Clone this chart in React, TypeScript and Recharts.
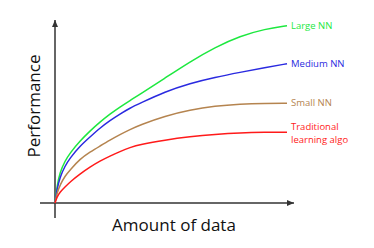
import { LineChart, Line, XAxis, YAxis, ReferenceLine, ReferenceDot } from "recharts";

// amount of data (x) and performance (y)
const amount = [0, 2, 5, 10, 15, 25, 35, 45, 55, 65, 75, 85, 110, 135, 160, 185, 210, 232];
const largeNN = [0, 17, 31, 42, 50, 62, 72, 81, 89, 96, 102.5, 108.7, 125, 141.3, 155.7, 167, 174, 177.3];
const mediumNN = [0, 14, 26, 37, 45, 57, 66, 75, 82.5, 89, 95, 99.7, 111.3, 119.7, 125.7, 130.7, 135.3, 139.3];
const smallNN = [0, 10, 18, 27, 33, 44, 51, 57, 63, 68.5, 73.5, 78, 87, 93, 97, 99, 99.7, 99.7];
const traditional = [0, 6, 11, 16, 21, 29, 36, 42, 47, 51.5, 55.5, 58.5, 63, 66.3, 68.7, 70.3, 70.7, 70.7];

const data = amount.map((a, i) => ({
  amount: a,
  large: largeNN[i],
  medium: mediumNN[i],
  small: smallNN[i],
  trad: traditional[i],
}));

const series = [
  { key: "large", color: "#1de83f", label: ["Large NN"] },
  { key: "medium", color: "#2a2ae0", label: ["Medium NN"] },
  { key: "small", color: "#b5844f", label: ["Small NN"] },
  { key: "trad", color: "#ff1a1a", label: ["Traditional", "learning algo"] },
];

const FONT = "'Open Sans', sans-serif";
const AXIS = "#333";

const arrowLine = (dir: "up" | "right") => (p: any) => {
  const { x1, y1, x2, y2 } = p;
  let head;
  if (dir === "right") {
    const tx = Math.max(x1, x2);
    head = `${tx},${y1} ${tx - 7},${y1 - 3} ${tx - 7},${y1 + 3}`;
  } else {
    const ty = Math.min(y1, y2);
    head = `${x1},${ty} ${x1 - 3},${ty + 7} ${x1 + 3},${ty + 7}`;
  }
  return (
    <g>
      <line x1={x1} y1={y1} x2={x2} y2={y2} stroke={AXIS} strokeWidth={1.5} />
      <polygon points={head} fill={AXIS} />
    </g>
  );
};

const endLabel = (lines: string[], color: string) => (p: any) => {
  const { x, y } = p.viewBox;
  const offset = lines.length > 1 ? -6 : -1;
  return (
    <text x={x + 4} y={y + offset} fill={color} fontSize={9.5} fontFamily={FONT} dominantBaseline="central">
      {lines.map((t, i) => (
        <tspan key={i} x={x + 4} dy={i === 0 ? 0 : 13}>
          {t}
        </tspan>
      ))}
    </text>
  );
};

export default function App() {
  const last = data[data.length - 1] as any;
  return (
    <div style={{ position: "absolute", left: 0, top: 0, background: "#fff" }}>
      <LineChart
        width={374}
        height={248}
        data={data}
        margin={{ top: 20, right: 80, bottom: 30, left: 40 }}
      >
        <XAxis dataKey="amount" type="number" domain={[-15, 239]} hide />
        <YAxis type="number" domain={[-15, 183]} hide />
        <ReferenceLine
          segment={[{ x: -15, y: 0 }, { x: 239, y: 0 }]}
          shape={arrowLine("right")}
          ifOverflow="visible"
        />
        <ReferenceLine
          segment={[{ x: 0, y: -15 }, { x: 0, y: 183 }]}
          shape={arrowLine("up")}
          ifOverflow="visible"
        />
        {series.map((s) => (
          <Line
            key={s.key}
            dataKey={s.key}
            type="basis"
            stroke={s.color}
            strokeWidth={1.5}
            dot={false}
            isAnimationActive={false}
          />
        ))}
        {series.map((s) => (
          <ReferenceDot
            key={"l" + s.key}
            x={last.amount}
            y={last[s.key]}
            r={0}
            stroke="none"
            fill="none"
            ifOverflow="visible"
            label={endLabel(s.label, s.color)}
          />
        ))}
      </LineChart>
      <div
        style={{
          position: "absolute",
          left: 174,
          top: 224,
          transform: "translate(-50%, -50%)",
          fontFamily: FONT,
          fontSize: 17,
          whiteSpace: "nowrap",
          color: "#111",
        }}
      >
        Amount of data
      </div>
      <div
        style={{
          position: "absolute",
          left: 33,
          top: 106,
          transform: "translate(-50%, -50%) rotate(-90deg)",
          fontFamily: FONT,
          fontSize: 17,
          whiteSpace: "nowrap",
          color: "#111",
        }}
      >
        Performance
      </div>
    </div>
  );
}
